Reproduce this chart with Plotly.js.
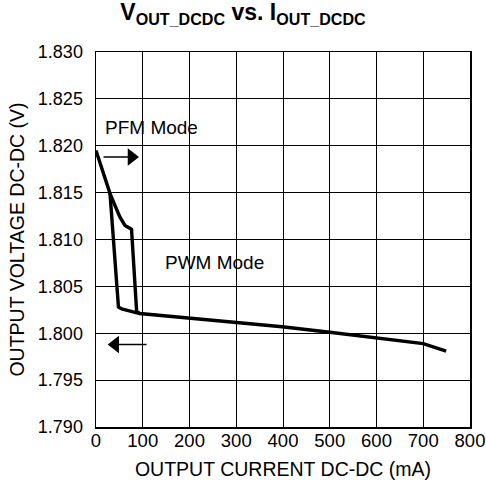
<!DOCTYPE html>
<html>
<head>
<meta charset="utf-8">
<script src="https://cdn.plot.ly/plotly-3.0.1.min.js"></script>
<style>html,body{margin:0;padding:0;background:#fff;}#chart{width:486px;height:487px;}</style>
</head>
<body>
<div id="chart"></div>
<script>
// Main path: PFM decreasing then PWM (outer branch of the hysteresis loop)
var mainCurrent = [0, 30, 51, 62, 76, 87, 94, 201, 299, 398, 500, 599, 700, 749];
var mainVoltage = [1.8195, 1.8149, 1.8124, 1.8115, 1.8111, 1.8023, 1.8021, 1.8016, 1.8012, 1.8007, 1.8001, 1.7995, 1.7989, 1.7981];
// Return path (inner branch of the loop)
var returnCurrent = [94, 55, 48, 30];
var returnVoltage = [1.8021, 1.8026, 1.8028, 1.8149];

var xTicks = [0, 100, 200, 300, 400, 500, 600, 700, 800];
var yTicks = [1.790, 1.795, 1.800, 1.805, 1.810, 1.815, 1.820, 1.825, 1.830];
var yTickLabels = ["1.790", "1.795", "1.800", "1.805", "1.810", "1.815", "1.820", "1.825", "1.830"];

var labels = ["PFM Mode", "PWM Mode"];
var labelX = [16, 144];
var labelY = [1.8220, 1.8075];

// direction arrows: tail and head positions
var arrowTailX = [16, 108];
var arrowHeadX = [76, 41];
var arrowY = [1.8188, 1.7988];
var arrowSymbols = ["triangle-right", "triangle-left"];

var font = "Liberation Sans, Arial, Helvetica, sans-serif";

var traces = [
  {x: mainCurrent, y: mainVoltage, mode: "lines", line: {color: "#000", width: 3.4}, hoverinfo: "skip"},
  {x: returnCurrent, y: returnVoltage, mode: "lines", line: {color: "#000", width: 3.4}, hoverinfo: "skip"}
];
for (var k = 0; k < arrowTailX.length; k++) {
  traces.push({x: [arrowTailX[k], arrowHeadX[k]], y: [arrowY[k], arrowY[k]], mode: "lines",
    line: {color: "#000", width: 1.5}, hoverinfo: "skip"});
  traces.push({x: [arrowHeadX[k]], y: [arrowY[k]], mode: "markers",
    marker: {symbol: arrowSymbols[k], size: 15, color: "#000", line: {width: 0}}, hoverinfo: "skip"});
}

var annotations = [];
for (var i = 0; i < labels.length; i++) {
  annotations.push({x: labelX[i], y: labelY[i], xref: "x", yref: "y", text: labels[i], showarrow: false,
    xanchor: "left", yanchor: "middle", font: {family: font, size: 19, color: "#000"}});
}

var layout = {
  width: 486, height: 487,
  margin: {l: 96, r: 16, t: 52, b: 60},
  paper_bgcolor: "#fff", plot_bgcolor: "#fff",
  showlegend: false,
  font: {family: font, size: 18, color: "#000"},
  title: {text: "<b>V<sub>OUT_DCDC</sub> vs. I<sub>OUT_DCDC</sub></b>", x: 0.5, xref: "container", y: 0.975, yref: "container", yanchor: "middle",
    font: {family: font, size: 23, color: "#000"}},
  xaxis: {range: [0, 800], tickvals: xTicks, ticktext: xTicks.map(String), showgrid: true, gridcolor: "#000", gridwidth: 1,
    showline: true, linecolor: "#000", linewidth: 1.5, mirror: true, zeroline: false, ticks: "", ticklabelstandoff: -4,
    tickfont: {family: font, size: 18.5, color: "#000"},
    title: {text: "OUTPUT CURRENT DC-DC (mA)", standoff: 12, font: {family: font, size: 19.5, color: "#000"}}},
  yaxis: {range: [1.790, 1.830], tickvals: yTicks, ticktext: yTickLabels, showgrid: true, gridcolor: "#000", gridwidth: 1,
    showline: true, linecolor: "#000", linewidth: 1.5, mirror: true, zeroline: false, ticks: "", ticklabelstandoff: 8,
    tickfont: {family: font, size: 18, color: "#000"},
    title: {text: "OUTPUT VOLTAGE DC-DC (V)", standoff: 8, font: {family: font, size: 19.5, color: "#000"}}},
  annotations: annotations
};

Plotly.newPlot("chart", traces, layout, {staticPlot: true, displayModeBar: false});
</script>
</body>
</html>
